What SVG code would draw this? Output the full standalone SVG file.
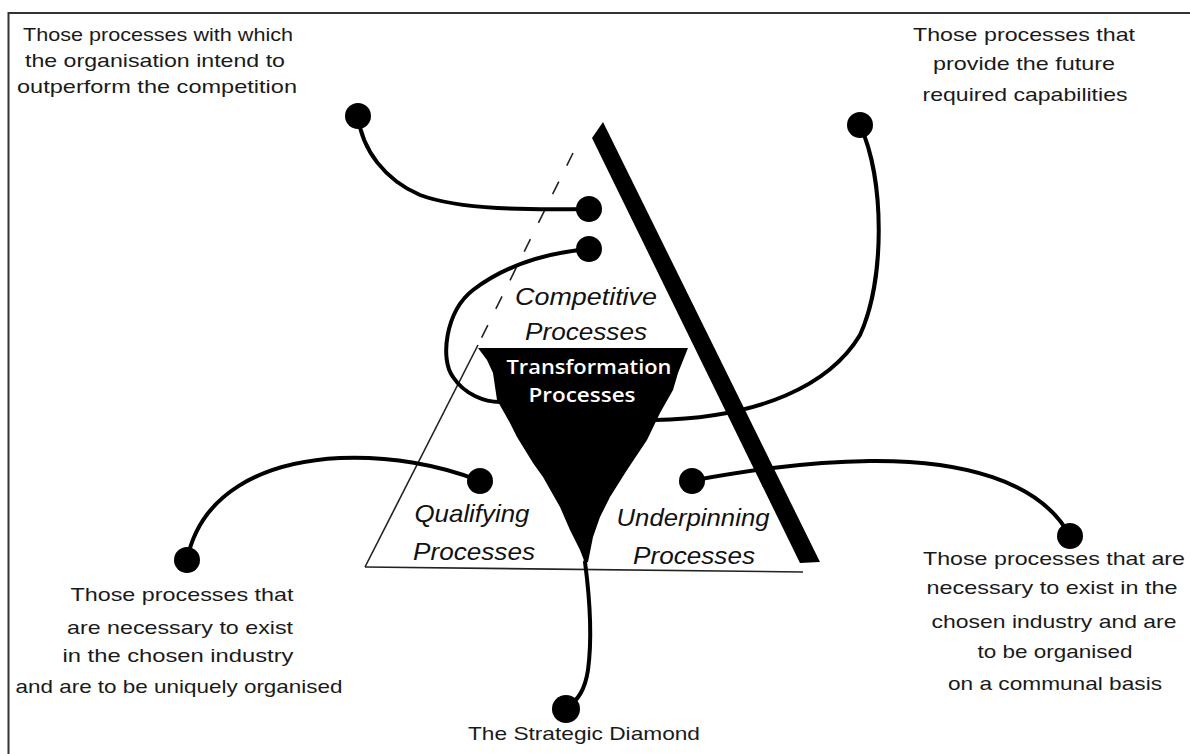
<svg xmlns="http://www.w3.org/2000/svg" width="1190" height="754" viewBox="0 0 1190 754">
<style>
.hand{font-family:"Liberation Sans","DejaVu Sans",sans-serif;font-size:19px;fill:#1a1a1a;text-anchor:middle}
.lab{font-family:"Liberation Sans","DejaVu Sans",sans-serif;font-style:italic;font-size:24px;fill:#111;text-anchor:middle}
.conn{fill:none;stroke:#000;stroke-width:4;stroke-linecap:round}
.dot{fill:#000}
.thin{fill:none;stroke:#222;stroke-width:1.6}
</style>
<rect width="1190" height="754" fill="#fff"/>
<path d="M8.5 754 V13 H1190" fill="none" stroke="#333" stroke-width="2"/>

<g id="triangle">
  <line class="thin" x1="573" y1="153" x2="478" y2="345" stroke-dasharray="14 18"/>
  <line class="thin" x1="478" y1="345" x2="365" y2="567"/>
  <line class="thin" x1="365" y1="567" x2="803" y2="572"/>
</g>
<g id="bar">
  <polygon points="592,138 603,122 820,562 800,563" fill="#000"/>
</g>
<g id="transformation">
  <polygon fill="#000" points="478,348 688,348 678,373 673,390 660,413 647,440 627,470 610,497 600,517 593,537 588,562 585,563 580,550 570,530 560,507 543,477 533,463 517,437 510,423 497,400 493,373 487,360"/>
  <text x="589" y="374" font-family="'Open Sans','Liberation Sans',sans-serif" font-size="20" font-weight="600" fill="#fff" text-anchor="middle" textLength="165" lengthAdjust="spacingAndGlyphs">Transformation</text>
  <text x="582" y="402" font-family="'Open Sans','Liberation Sans',sans-serif" font-size="20" font-weight="600" fill="#fff" text-anchor="middle" textLength="107" lengthAdjust="spacingAndGlyphs">Processes</text>
</g>
<g id="competitive">
  <text class="lab" x="586" y="305" textLength="142" lengthAdjust="spacingAndGlyphs">Competitive</text>
  <text class="lab" x="586" y="340" textLength="122" lengthAdjust="spacingAndGlyphs">Processes</text>
</g>
<g id="qualifying">
  <text class="lab" x="472" y="522" textLength="115" lengthAdjust="spacingAndGlyphs">Qualifying</text>
  <text class="lab" x="474" y="560" textLength="122" lengthAdjust="spacingAndGlyphs">Processes</text>
</g>
<g id="underpinning">
  <text class="lab" x="693" y="526" textLength="153" lengthAdjust="spacingAndGlyphs">Underpinning</text>
  <text class="lab" x="694" y="564" textLength="122" lengthAdjust="spacingAndGlyphs">Processes</text>
</g>

<g id="connectors">
  <path class="conn" d="M358 116 C362 150 385 180 420 195 C460 210 530 210 589 209"/>
  <path class="conn" d="M589 249 C555 252 510 262 473 290 C445 312 440 360 453 377 C465 395 485 402 500 402"/>
  <path class="conn" d="M860 125 C885 180 885 280 860 335 C830 385 760 418 655 420"/>
  <path class="conn" d="M480 481 C440 465 390 456 340 458 C260 462 200 495 187 560"/>
  <path class="conn" d="M690 481 C740 472 800 462 870 461 C960 460 1040 480 1070 536"/>
  <path class="conn" d="M585 562 C590 600 592 640 588 670 C585 690 578 700 566 709"/>
  <circle class="dot" cx="358" cy="116" r="13"/>
  <circle class="dot" cx="589" cy="209" r="13"/>
  <circle class="dot" cx="589" cy="249" r="13"/>
  <circle class="dot" cx="860" cy="125" r="13"/>
  <circle class="dot" cx="480" cy="481" r="13"/>
  <circle class="dot" cx="187" cy="560" r="13"/>
  <circle class="dot" cx="692" cy="481" r="13"/>
  <circle class="dot" cx="1070" cy="536" r="13"/>
  <circle class="dot" cx="566" cy="709" r="14"/>
</g>

<g id="note-top-left">
  <text class="hand" x="158" y="41" textLength="270" lengthAdjust="spacingAndGlyphs">Those processes with which</text>
  <text class="hand" x="155" y="67" textLength="260" lengthAdjust="spacingAndGlyphs">the organisation intend to</text>
  <text class="hand" x="157" y="93" textLength="280" lengthAdjust="spacingAndGlyphs">outperform the competition</text>
</g>
<g id="note-top-right">
  <text class="hand" x="1024" y="41" textLength="222" lengthAdjust="spacingAndGlyphs">Those processes that</text>
  <text class="hand" x="1024" y="70" textLength="182" lengthAdjust="spacingAndGlyphs">provide the future</text>
  <text class="hand" x="1025" y="101" textLength="205" lengthAdjust="spacingAndGlyphs">required capabilities</text>
</g>
<g id="note-bottom-left">
  <text class="hand" x="182" y="601" textLength="223" lengthAdjust="spacingAndGlyphs">Those processes that</text>
  <text class="hand" x="180" y="634" textLength="226" lengthAdjust="spacingAndGlyphs">are necessary to exist</text>
  <text class="hand" x="178" y="662" textLength="231" lengthAdjust="spacingAndGlyphs">in the chosen industry</text>
  <text class="hand" x="179" y="693" textLength="327" lengthAdjust="spacingAndGlyphs">and are to be uniquely organised</text>
</g>
<g id="note-bottom-right">
  <text class="hand" x="1054" y="565" textLength="262" lengthAdjust="spacingAndGlyphs">Those processes that are</text>
  <text class="hand" x="1052" y="594" textLength="251" lengthAdjust="spacingAndGlyphs">necessary to exist in the</text>
  <text class="hand" x="1054" y="628" textLength="245" lengthAdjust="spacingAndGlyphs">chosen industry and are</text>
  <text class="hand" x="1055" y="658" textLength="155" lengthAdjust="spacingAndGlyphs">to be organised</text>
  <text class="hand" x="1055" y="690" textLength="214" lengthAdjust="spacingAndGlyphs">on a communal basis</text>
</g>
<g id="title">
  <text class="hand" x="584" y="740" textLength="232" lengthAdjust="spacingAndGlyphs">The Strategic Diamond</text>
</g>
</svg>
